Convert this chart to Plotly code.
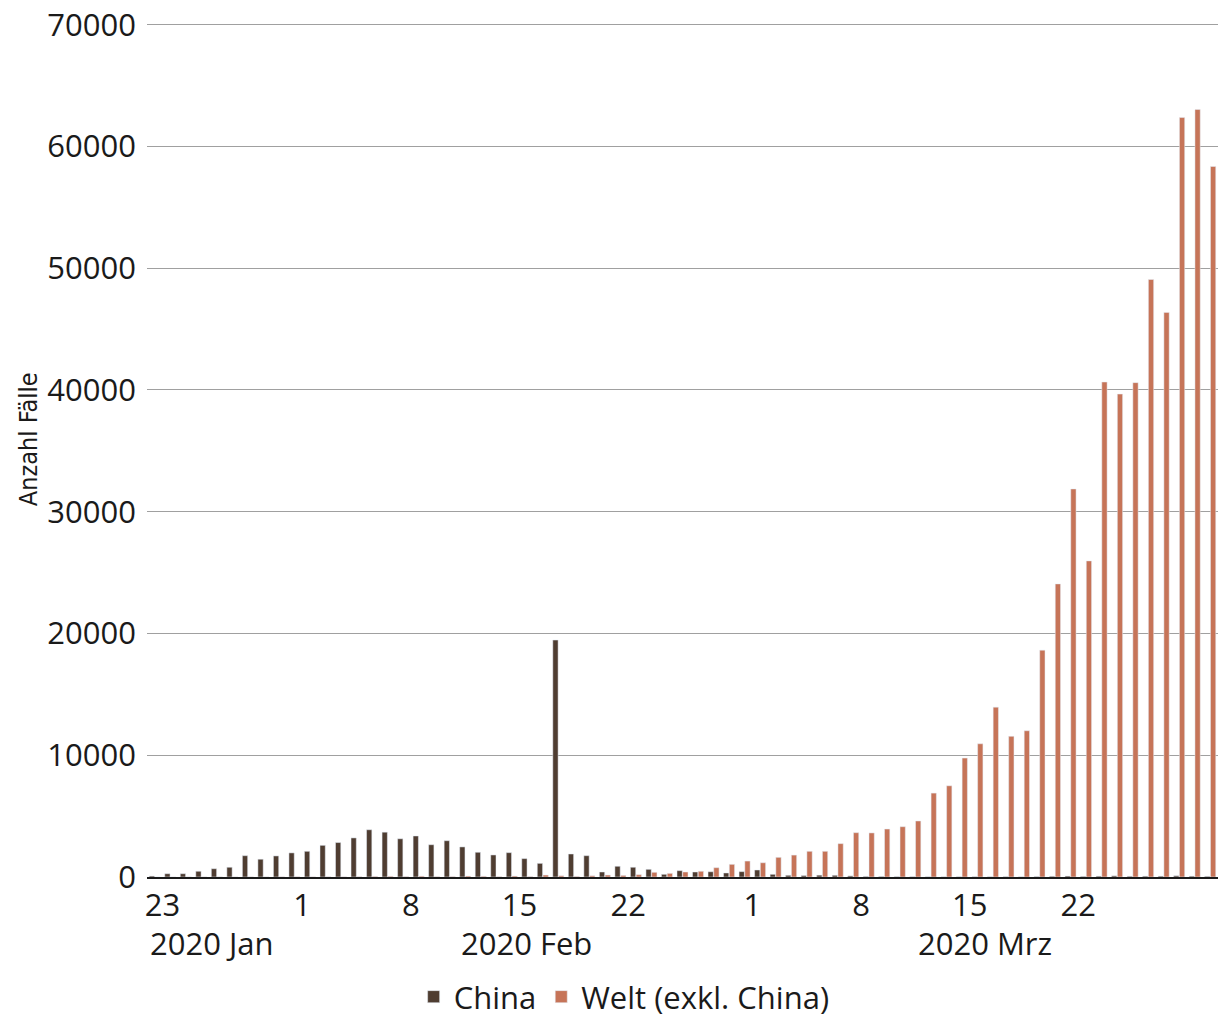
import pandas as pd
import plotly.graph_objects as go

# Daily new COVID-19 cases, 22 Jan - 30 Mar 2020
dates = pd.date_range("2020-01-22", "2020-03-30", freq="D")

china = [
    80, 270, 270, 470, 680, 800, 1750, 1460, 1730, 1980,          # Jan 22-31
    2110, 2600, 2830, 3210, 3880, 3680, 3140, 3370, 2650, 2980,   # Feb 1-10
    2470, 2030, 1810, 2000, 1510, 1120, 19460, 1890, 1750, 410,   # Feb 11-20
    880, 800, 630, 220, 520, 410, 430, 330, 440,                  # Feb 21-29
    575, 220, 140, 120, 150, 140, 90, 50, 45, 30,                 # Mar 1-10
    25, 20, 15, 20, 25, 20, 30, 15, 40, 60,                       # Mar 11-20
    80, 50, 70, 95, 60, 70, 70, 100, 70, 55,                      # Mar 21-30
]

welt = [
    2, 5, 8, 10, 12, 8, 15, 10, 20, 25,                           # Jan 22-31
    15, 20, 15, 25, 50, 60, 40, 70, 30, 40,                       # Feb 1-10
    80, 60, 30, 80, 40, 160, 100, 50, 100, 160,                   # Feb 11-20
    130, 190, 385, 300, 410, 470, 765, 1040, 1310,                # Feb 21-29
    1170, 1615, 1800, 2110, 2110, 2740, 3640, 3620, 3940, 4130,   # Mar 1-10
    4600, 6890, 7490, 9770, 10940, 13950, 11550, 12010, 18630, 24070,  # Mar 11-20
    31870, 25960, 40650, 39660, 40600, 49070, 46370, 62370, 63030, 58350,  # Mar 21-30
]

tick_dates = ["2020-01-23", "2020-02-01", "2020-02-08", "2020-02-15", "2020-02-22",
              "2020-03-01", "2020-03-08", "2020-03-15", "2020-03-22"]
tick_labels = ["23", "1", "8", "15", "22", "1", "8", "15", "22"]

month_labels = ["2020 Jan", "2020 Feb", "2020 Mrz"]
month_label_pos = [0.061, 0.354, 0.7825]

y_ticks = [0, 10000, 20000, 30000, 40000, 50000, 60000, 70000]
y_tick_labels = [str(v) for v in y_ticks]

COL_CHINA = "#4f3d31"
COL_WELT = "#c67458"
FONT = "Open Sans, Noto Sans, sans-serif"

fig = go.Figure()
fig.add_trace(go.Bar(
    x=dates, y=china, name="China", marker_color=COL_CHINA,
    xperiod=86400000, xperiodalignment="middle",
))
fig.add_trace(go.Bar(
    x=dates, y=welt, name="Welt (exkl. China)", marker_color=COL_WELT,
    xperiod=86400000, xperiodalignment="middle",
))

for txt, xp in zip(month_labels, month_label_pos):
    fig.add_annotation(
        text=txt, xref="paper", yref="paper", x=xp, y=-0.077,
        xanchor="center", yanchor="middle", showarrow=False,
        font=dict(family=FONT, size=31, color="#1a1a1a"),
    )

fig.add_annotation(
    text="Anzahl Fälle", xref="paper", yref="paper", x=-0.1106, y=0.511,
    xanchor="center", yanchor="middle", textangle=-90, showarrow=False,
    font=dict(family="Liberation Sans Narrow, DejaVu Sans Condensed, sans-serif",
              size=25, color="#1a1a1a"),
)

fig.update_layout(
    width=1218, height=1024,
    margin=dict(l=147, r=0, t=21, b=147),
    plot_bgcolor="white", paper_bgcolor="white",
    barmode="group", bargap=0.26, bargroupgap=0.08,
    font=dict(family=FONT, size=31, color="#1a1a1a"),
    showlegend=True,
    legend=dict(
        orientation="h", x=0.4455, y=-0.1717, xanchor="center", yanchor="bottom",
        font=dict(family=FONT, size=31, color="#1a1a1a"),
        itemwidth=30, tracegroupgap=0,
    ),
    xaxis=dict(
        type="date",
        range=["2020-01-22", "2020-03-31"],
        tickvals=tick_dates, ticktext=tick_labels,
        showgrid=False, ticks="", ticklabelstandoff=0,
        showline=True, linecolor="#1a1a1a", linewidth=1.5,
        tickfont=dict(family=FONT, size=31, color="#1a1a1a"),
    ),
    yaxis=dict(
        range=[0, 70300], tickvals=y_ticks, ticktext=y_tick_labels,
        showgrid=True, gridcolor="#a0a0a0", gridwidth=1,
        zeroline=False, ticks="", ticklabelstandoff=10,
        tickfont=dict(family=FONT, size=31, color="#1a1a1a"),
    ),
)

fig.write_html("out.html")
